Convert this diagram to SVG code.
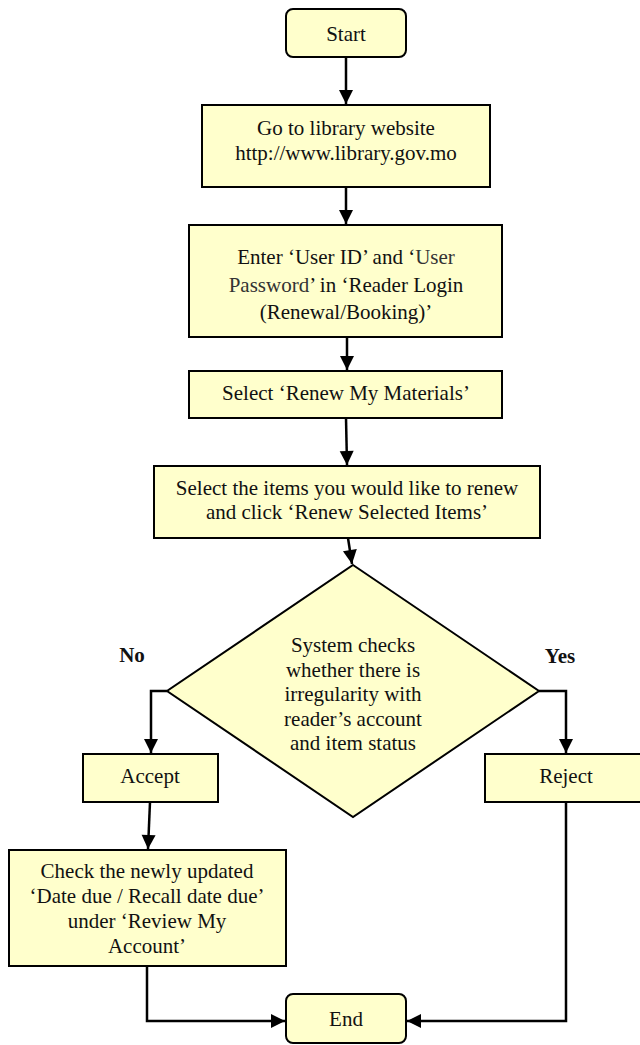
<svg xmlns="http://www.w3.org/2000/svg" width="640" height="1045" viewBox="0 0 640 1045">
<style>
.box{fill:#FFFFCC;stroke:#000;stroke-width:2}
.t{font-family:'Liberation Serif','Times New Roman',serif;font-size:21px;fill:#111;text-anchor:middle}
.b{font-weight:bold}
.c{fill:none;stroke:#000;stroke-width:2.5}
</style>
<defs>
<marker id="ah" markerUnits="userSpaceOnUse" markerWidth="16" markerHeight="16" viewBox="0 0 16 16" refX="15" refY="8" orient="auto">
<path d="M1,1 L15,8 L1,15 Z" fill="#000"/>
</marker>
</defs>
<rect width="640" height="1045" fill="#fff"/>
<g id="connectors">
<path class="c" d="M346,57 L346,104" marker-end="url(#ah)"/>
<path class="c" d="M346,187 L346,224" marker-end="url(#ah)"/>
<path class="c" d="M347,337 L347,370" marker-end="url(#ah)"/>
<path class="c" d="M346,418 L347,465" marker-end="url(#ah)"/>
<path class="c" d="M348,538 L352,564" marker-end="url(#ah)"/>
<path class="c" d="M167,691 L151,691 L151,753" marker-end="url(#ah)"/>
<path class="c" d="M539,691 L566,691 L566,753" marker-end="url(#ah)"/>
<path class="c" d="M150,802 L148,849" marker-end="url(#ah)"/>
<path class="c" d="M147,966 L147,1021 L285,1021" marker-end="url(#ah)"/>
<path class="c" d="M566,802 L566,1021 L407,1021" marker-end="url(#ah)"/>
</g>
<g id="start">
<rect class="box" x="286" y="9" width="120" height="48" rx="7"/>
<text class="t" x="346" y="41">Start</text>
</g>
<g id="website">
<rect class="box" x="202" y="105" width="288" height="82"/>
<text class="t" x="346" y="135">Go to library website</text>
<text class="t" x="346" y="160">http://www.library.gov.mo</text>
</g>
<g id="login">
<rect class="box" x="189" y="225" width="313" height="112"/>
<text class="t" x="346" y="264">Enter ‘User ID’ and ‘<tspan fill="#333">User</tspan></text>
<text class="t" x="346" y="292"><tspan fill="#333">Password</tspan>’ in ‘Reader Login</text>
<text class="t" x="346" y="319">(Renewal/Booking)’</text>
</g>
<g id="renew">
<rect class="box" x="189" y="371" width="313" height="47"/>
<text class="t" x="346" y="400">Select ‘Renew My Materials’</text>
</g>
<g id="select">
<rect class="box" x="154" y="466" width="386" height="72"/>
<text class="t" x="347" y="495">Select the items you would like to renew</text>
<text class="t" x="347" y="519">and click ‘Renew Selected Items’</text>
</g>
<g id="decision">
<polygon class="box" points="353,565 539,691 353,817 167,691"/>
<text class="t" x="353" y="652">System checks</text>
<text class="t" x="353" y="677">whether there is</text>
<text class="t" x="353" y="701">irregularity with</text>
<text class="t" x="353" y="726">reader’s account</text>
<text class="t" x="353" y="750">and item status</text>
</g>
<g id="labels">
<text class="t b" x="132" y="662">No</text>
<text class="t b" x="560" y="663">Yes</text>
</g>
<g id="accept">
<rect class="box" x="83" y="754" width="135" height="48"/>
<text class="t" x="150" y="783">Accept</text>
</g>
<g id="reject">
<rect class="box" x="485" y="754" width="162" height="48"/>
<text class="t" x="566" y="783">Reject</text>
</g>
<g id="check">
<rect class="box" x="9" y="850" width="277" height="116"/>
<text class="t" x="147" y="878">Check the newly updated</text>
<text class="t" x="147" y="903">‘Date due / Recall date due’</text>
<text class="t" x="147" y="928">under ‘Review My</text>
<text class="t" x="147" y="953">Account’</text>
</g>
<g id="end">
<rect class="box" x="286" y="994" width="120" height="49" rx="7"/>
<text class="t" x="346" y="1026">End</text>
</g>
</svg>
